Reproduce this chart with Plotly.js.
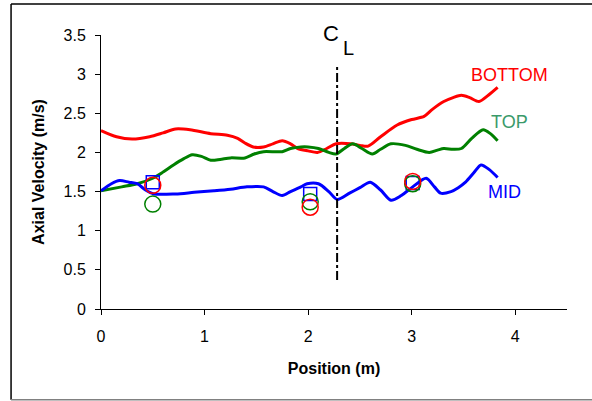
<!DOCTYPE html>
<html><head><meta charset="utf-8">
<script src="https://cdn.plot.ly/plotly-3.0.1.min.js"></script>
<style>html,body{margin:0;padding:0;background:#fff;}#chart{width:592px;height:401px;}</style>
</head><body><div id="chart"></div>
<script>
// BOTTOM (red) profile
const bottomX = [0, 0.15, 0.3, 0.47, 0.6, 0.72, 0.86, 1.06, 1.22, 1.32, 1.39, 1.47, 1.57, 1.66, 1.75, 1.83, 1.9, 2.0, 2.09, 2.18, 2.27, 2.41, 2.5, 2.58, 2.7, 2.86, 3.0, 3.12, 3.2, 3.31, 3.4, 3.48, 3.56, 3.65, 3.74, 3.83];
const bottomY = [2.28, 2.2, 2.17, 2.2, 2.25, 2.3, 2.29, 2.24, 2.22, 2.18, 2.12, 2.07, 2.07, 2.11, 2.15, 2.11, 2.05, 2.02, 2.0, 2.05, 2.11, 2.11, 2.09, 2.08, 2.2, 2.35, 2.42, 2.46, 2.55, 2.65, 2.7, 2.73, 2.7, 2.65, 2.73, 2.83];
// TOP (green) profile
const topX = [0, 0.2, 0.35, 0.5, 0.6, 0.7, 0.8, 0.88, 0.97, 1.06, 1.15, 1.25, 1.39, 1.48, 1.57, 1.75, 1.83, 1.93, 2.0, 2.1, 2.2, 2.27, 2.35, 2.43, 2.52, 2.62, 2.7, 2.8, 2.94, 3.05, 3.17, 3.25, 3.31, 3.4, 3.48, 3.58, 3.69, 3.76, 3.83];
const topY = [1.51, 1.56, 1.6, 1.67, 1.75, 1.84, 1.92, 1.97, 1.95, 1.9, 1.91, 1.93, 1.93, 1.98, 2.01, 2.01, 2.05, 2.07, 2.07, 2.05, 2.0, 1.98, 2.05, 2.11, 2.05, 1.98, 2.04, 2.11, 2.09, 2.04, 2.0, 2.03, 2.05, 2.04, 2.05, 2.18, 2.29, 2.24, 2.15];
// MID (blue) profile
const midX = [0, 0.1, 0.18, 0.27, 0.35, 0.43, 0.51, 0.72, 0.9, 1.09, 1.25, 1.41, 1.57, 1.66, 1.75, 1.83, 1.93, 1.99, 2.1, 2.2, 2.28, 2.4, 2.5, 2.6, 2.7, 2.8, 2.9, 3.01, 3.14, 3.22, 3.28, 3.38, 3.45, 3.52, 3.6, 3.67, 3.75, 3.83];
const midY = [1.51, 1.6, 1.64, 1.62, 1.6, 1.52, 1.47, 1.47, 1.49, 1.51, 1.53, 1.56, 1.56, 1.5, 1.45, 1.5, 1.56, 1.6, 1.6, 1.5, 1.4, 1.48, 1.55, 1.62, 1.52, 1.39, 1.45, 1.56, 1.67, 1.56, 1.48, 1.5, 1.55, 1.62, 1.74, 1.84, 1.78, 1.68];
// measured points
const measX = [0.5, 2.02, 3.01];
const measBottom = [1.58, 1.30, 1.63];
const measTop = [1.34, 1.37, 1.60];
const measMid = [1.62, 1.47, 1.61];
// centerline
const clX = [2.28, 2.28];
const clY = [0.37, 3.09];
const seriesLabels = ["BOTTOM", "TOP", "MID"];
const labelX = [3.94, 3.94, 3.9];
const labelY = [2.99, 2.39, 1.5];

const RED = '#ff0000', GREEN = '#008000', BLUE = '#0000ff';
const FONT = 'Liberation Sans, Arial, sans-serif';

const traces = [
  {x: bottomX, y: bottomY, mode: 'lines', line: {color: RED, width: 3, shape: 'spline', smoothing: 0.8}},
  {x: topX, y: topY, mode: 'lines', line: {color: GREEN, width: 3, shape: 'spline', smoothing: 0.8}},
  {x: midX, y: midY, mode: 'lines', line: {color: BLUE, width: 3, shape: 'spline', smoothing: 0.8}},
  {x: measX, y: measMid, mode: 'markers', marker: {symbol: 'square-open', size: 13, color: BLUE, line: {width: 1.5}}},
  {x: measX, y: measTop, mode: 'markers', marker: {symbol: 'circle-open', size: 16, color: GREEN, line: {width: 1.5}}},
  {x: measX, y: measBottom, mode: 'markers', marker: {symbol: 'circle-open', size: 16, color: RED, line: {width: 1.5}}},
  {x: clX, y: clY, mode: 'lines', line: {color: '#000', width: 2, dash: 'dashdot'}}
];

const labelColors = [RED, '#3a9a6a', BLUE];
const annotations = seriesLabels.map((t, i) => ({
  x: labelX[i], y: labelY[i], xref: 'x', yref: 'y', text: t, showarrow: false,
  xanchor: 'center', font: {family: FONT, size: 18, color: labelColors[i]}
}));
annotations.push({x: clX[0], y: 3.5, xref: 'x', yref: 'y', text: 'C', showarrow: false,
  xanchor: 'right', yanchor: 'middle', xshift: 4, yshift: 2,
  font: {family: FONT, size: 22, color: '#000'}});
annotations.push({x: clX[0], y: 3.5, xref: 'x', yref: 'y', text: 'L', showarrow: false,
  xanchor: 'left', yanchor: 'middle', xshift: 4, yshift: -13,
  font: {family: FONT, size: 20, color: '#000'}});

const layout = {
  width: 592, height: 401,
  margin: {l: 101, r: 25, t: 35, b: 92},
  paper_bgcolor: '#fff', plot_bgcolor: '#fff',
  showlegend: false,
  font: {family: FONT, size: 16, color: '#000'},
  xaxis: {range: [0, 4.5], tickvals: [0, 1, 2, 3, 4], showgrid: false, zeroline: false,
    showline: true, linecolor: '#000', linewidth: 1, ticks: 'outside', ticklen: 5, tickcolor: '#000',
    ticklabelstandoff: 8, tickfont: {size: 16},
    title: {text: '<b>Position (m)</b>', font: {size: 16}, standoff: 18}},
  yaxis: {range: [0, 3.5], dtick: 0.5, showgrid: false, zeroline: false,
    showline: true, linecolor: '#000', linewidth: 1, ticks: 'outside', ticklen: 5, tickcolor: '#000',
    ticklabelstandoff: 6, tickfont: {size: 16},
    title: {text: '<b>Axial Velocity (m/s)</b>', font: {size: 16}, standoff: 14}},
  annotations: annotations,
  shapes: [
    {type: 'line', xref: 'paper', yref: 'paper', x0: -0.193, x1: -0.193, y0: -0.331, y1: 1.113, line: {color: '#000', width: 1.5}},
    {type: 'line', xref: 'paper', yref: 'paper', x0: -0.193, x1: 1.1, y0: 1.113, y1: 1.113, line: {color: '#000', width: 1.5}},
    {type: 'line', xref: 'paper', yref: 'paper', x0: -0.193, x1: 1.1, y0: -0.331, y1: -0.331, line: {color: '#808080', width: 1.5}}
  ]
};
Plotly.newPlot('chart', traces, layout, {displayModeBar: false, staticPlot: true});
</script></body></html>
